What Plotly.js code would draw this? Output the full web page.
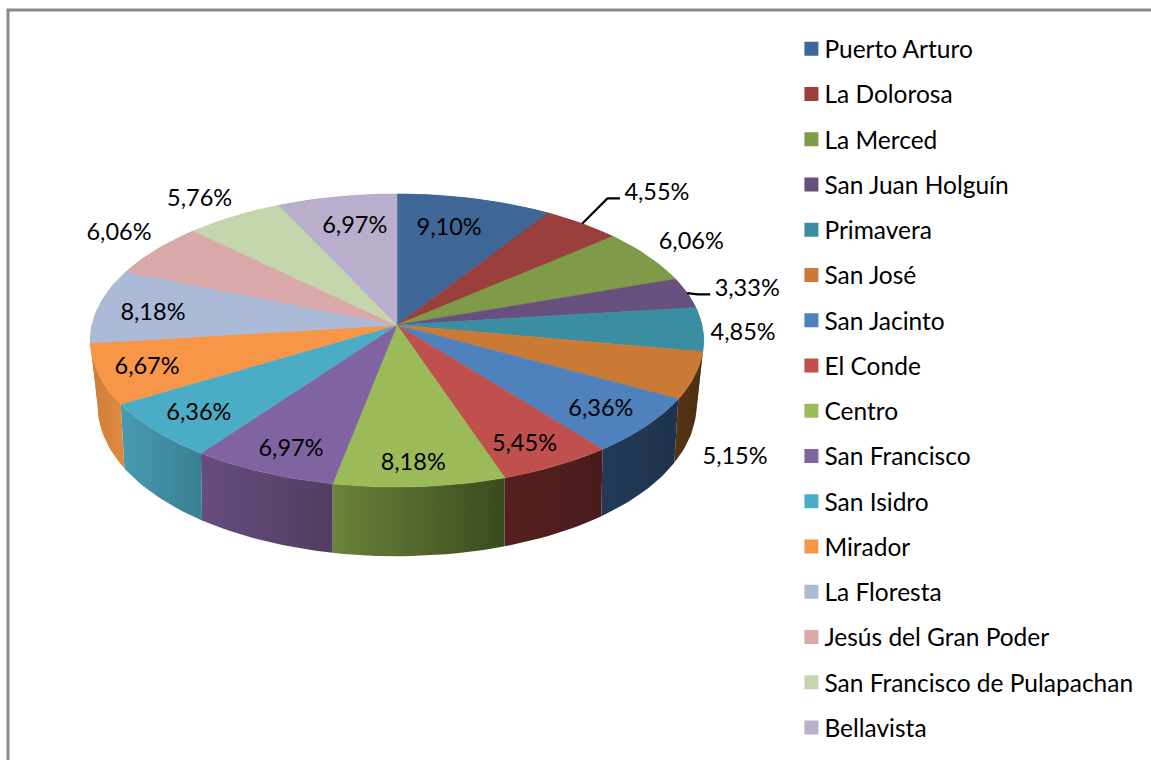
<!DOCTYPE html>
<html>
<head>
<meta charset="utf-8">
<script src="https://cdn.plot.ly/plotly-3.0.1.min.js"></script>
<style>html,body{margin:0;padding:0;background:#fff}#chart{width:1151px;height:760px}</style>
</head>
<body>
<div id="chart"></div>
<script>
// ---- data ----
const barrios = ["Puerto Arturo","La Dolorosa","La Merced","San Juan Holguín","Primavera","San José","San Jacinto","El Conde","Centro","San Francisco","San Isidro","Mirador","La Floresta","Jesús del Gran Poder","San Francisco de Pulapachan","Bellavista"];
const shares = [9.10,4.55,6.06,3.33,4.85,5.15,6.36,5.45,8.18,6.97,6.36,6.67,8.18,6.06,5.76,6.97];

// ---- style ----
const topColors = ["#3e6797","#9b3f3d","#7f9a48","#67507e","#3b8ea2","#cb7a35","#4f81bd","#c0504d","#9bbb59","#8064a2","#4bacc6","#f79646","#aabad7","#d9aaa9","#c6d6ac","#b9aecb"];
const wallLeft  = ["#2c4a6e","#6f2d2c","#5c7034","#4a3a5c","#2f7f94","#553415","#223a57","#551f1e","#6b8339","#664d7d","#479bb1","#d07d39","#d07d39","#a88382","#97a585","#8d849c"];
const wallRight = ["#2c4a6e","#6f2d2c","#5c7034","#4a3a5c","#2f7f94","#4c2e12","#1e324c","#4a1b1b","#3a4a1f","#513c60","#3a8094","#e08a40","#d07d39","#a88382","#97a585","#8d849c"];
const labelRadius = [.751,1.388,1.203,1.209,1.13,1.305,.83,.843,.86,.842,.832,.842,.813,1.2,1.2,.759];
const labelTurn = [-2.2,1.9,-1.3,.5,.7,19.5,.2,1.2,.6,-1.2,-.2,0,-1.2,2.1,-1,1.2];
const leaderSlices = [1,3];

// perspective of the pie's plane on the page
const CX=397, CY=325, A=305, B=144.9, K=.1058;
function rim(deg,r){
  const t=deg*Math.PI/180, u=r*Math.sin(t), v=r*Math.cos(t), w=1+K*v;
  return [CX+A*u/w, CY-B*v/w];
}
function lower(p){
  const d=40+.06*p[1], s=Math.min(1,.986+(p[1]-400)/87*.014);
  return [CX+(p[0]-CX)*s, p[1]+d];
}
const total=shares.reduce((a,b)=>a+b,0);
const traces=[];
let start=0;
const spans=shares.map(v=>{const a=start,b=start+v/total*360;start=b;return [a,b];});
function arc(a,b){
  const n=Math.max(2,Math.ceil((b-a)/1.5)),out=[];
  for(let i=0;i<=n;i++) out.push(rim(a+(b-a)*i/n,1));
  return out;
}
// side walls
spans.forEach(([a,b],i)=>{
  const up=arc(a,b), dn=up.map(lower).reverse(), pts=up.concat(dn,[up[0]]);
  const xs=pts.map(p=>p[0]), lo=Math.min(...xs), hi=Math.max(...xs);
  traces.push({type:"scatter",mode:"lines",x:xs,y:pts.map(p=>p[1]),fill:"toself",
    line:{width:0,color:wallRight[i]},
    fillgradient:{type:"horizontal",start:lo,stop:hi,colorscale:[[0,wallLeft[i]],[1,wallRight[i]]]},
    showlegend:false,hoverinfo:"skip"});
});
// top faces
spans.forEach(([a,b],i)=>{
  const pts=[[CX,CY]].concat(arc(a,b),[[CX,CY]]);
  traces.push({type:"scatter",mode:"lines",x:pts.map(p=>p[0]),y:pts.map(p=>p[1]),fill:"toself",
    fillcolor:topColors[i],line:{width:.6,color:topColors[i]},showlegend:false,hoverinfo:"skip"});
});
// labels
const labelPts=spans.map(([a,b],i)=>rim((a+b)/2+labelTurn[i],labelRadius[i]));
traces.push({type:"scatter",mode:"text",x:labelPts.map(p=>p[0]),y:labelPts.map(p=>p[1]+2.5),
  text:shares.map(v=>v.toFixed(2).replace(".",",")+"%"),textposition:"middle center",
  textfont:{family:"Lato, Carlito, sans-serif",size:23.5,color:"#000"},showlegend:false,hoverinfo:"skip"});
// leader lines
leaderSlices.forEach(i=>{
  const [a,b]=spans[i], s=rim((a+b)/2,1), l=labelPts[i], yy=l[1]+6.5;
  traces.push({type:"scatter",mode:"lines",x:[s[0],l[0]-49.5,l[0]-37],y:[s[1],yy,yy],
    line:{color:"#000",width:2.2},showlegend:false,hoverinfo:"skip"});
});
// legend
barrios.forEach((name,i)=>{
  traces.push({type:"scatter",mode:"markers",name:name,x:[null],y:[null],legendgroup:"g"+i,
    marker:{symbol:"square",size:14,color:topColors[i]},hoverinfo:"skip"});
});
const layout={
  width:1151,height:760,margin:{l:0,r:0,t:0,b:0},paper_bgcolor:"#fff",plot_bgcolor:"#fff",
  hovermode:false,
  xaxis:{range:[0,1151],visible:false,fixedrange:true},
  yaxis:{range:[760,0],visible:false,fixedrange:true},
  shapes:[{type:"path",path:"M 8 760 L 8 10 L 1151 10",line:{color:"#8a8a8a",width:3},layer:"below"}],
  legend:{x:.6815,xanchor:"left",y:.9655,yanchor:"top",bgcolor:"rgba(0,0,0,0)",
    font:{family:"Lato, Carlito, sans-serif",size:24.5,color:"#000"},tracegroupgap:10.4,itemclick:false,itemdoubleclick:false}
};
Plotly.newPlot("chart",traces,layout,{displayModeBar:false,staticPlot:true}).then(()=>{
  // the reference sets its legend keys closer to their text
  document.querySelectorAll(".legend .legendpoints").forEach(g=>{
    g.setAttribute("transform",(g.getAttribute("transform")||"")+" translate(7,0)");
  });
});
</script>
</body>
</html>
